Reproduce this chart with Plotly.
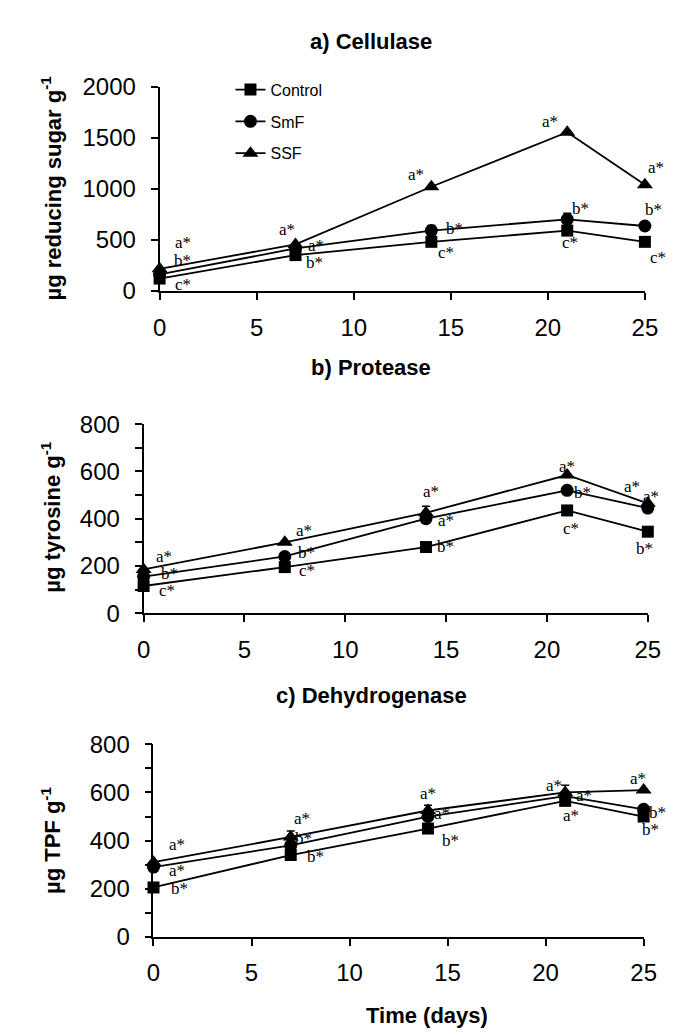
import plotly.graph_objects as go

# ---------------- data ----------------
days = [0, 7, 14, 21, 25]
series_names = ["Control", "SmF", "SSF"]

# a) Cellulase (µg reducing sugar g-1)
cell_control = [120, 350, 480, 590, 480]
cell_smf = [160, 415, 590, 700, 635]
cell_ssf = [215, 455, 1020, 1555, 1040]
cell_control_err = [0, 0, 0, 0, 0]
cell_smf_err = [0, 0, 50, 60, 0]
cell_ssf_err = [0, 0, 0, 0, 0]
cell_control_lbl = ["c*", "b*", "c*", "c*", "c*"]
cell_smf_lbl = ["b*", "a*", "b*", "b*", "b*"]
cell_ssf_lbl = ["a*", "a*", "a*", "a*", "a*"]

# b) Protease (µg tyrosine g-1)
prot_control = [115, 195, 280, 435, 345]
prot_smf = [155, 240, 400, 520, 445]
prot_ssf = [185, 300, 425, 585, 465]
prot_control_err = [0, 0, 0, 0, 0]
prot_smf_err = [0, 0, 0, 0, 0]
prot_ssf_err = [0, 0, 28, 0, 0]
prot_control_lbl = ["c*", "c*", "b*", "c*", "b*"]
prot_smf_lbl = ["b*", "b*", "a*", "b*", "a*"]
prot_ssf_lbl = ["a*", "a*", "a*", "a*", "a*"]

# c) Dehydrogenase (µg TPF g-1)
dh_control = [205, 340, 450, 565, 500]
dh_smf = [290, 380, 500, 585, 530]
dh_ssf = [310, 415, 525, 600, 610]
dh_control_err = [0, 0, 0, 0, 0]
dh_smf_err = [0, 0, 0, 0, 0]
dh_ssf_err = [0, 25, 22, 30, 0]
dh_control_lbl = ["b*", "b*", "b*", "a*", "b*"]
dh_smf_lbl = ["a*", "b*", "a*", "a*", "b*"]
dh_ssf_lbl = ["a*", "a*", "a*", "a*", "a*"]

# ---------------- styles ----------------
W, H = 679, 1035
symbols = {"Control": "square", "SmF": "circle", "SSF": "triangle-up"}
msizes = {"Control": 12, "SmF": 13, "SSF": 14}

# label offsets in pixels (dx, dy) per panel/series
shifts = {
    "a": {
        "Control": [(23, -6), (19, -7), (15, -11), (3, -12), (13, -16)],
        "SmF": [(23, 14), (21, 3), (23, 2), (13, 11), (9, 17)],
        "SSF": [(23, 26), (-8, 15), (-15, 12), (-17, 11), (11, 17)],
    },
    "b": {
        "Control": [(23, -4), (22, -3), (20, 1), (4, -18), (-3, -17)],
        "SmF": [(26, 3), (22, 4), (20, -2), (15, -2), (3, 12)],
        "SSF": [(20, 13), (19, 12), (5, 21), (0, 9), (-16, 17)],
    },
    "c": {
        "Control": [(26, -1), (25, -1), (23, -12), (6, -15), (7, -13)],
        "SmF": [(24, -3), (13, 7), (14, 3), (19, 1), (14, -3)],
        "SSF": [(24, 18), (11, 18), (0, 17), (-11, 7), (-6, 12)],
    },
}

panels = [
    dict(key="a", title="a) Cellulase", ytitle="µg reducing sugar g<sup>-1</sup>",
         vals={"Control": cell_control, "SmF": cell_smf, "SSF": cell_ssf},
         errs={"Control": cell_control_err, "SmF": cell_smf_err, "SSF": cell_ssf_err},
         lbls={"Control": cell_control_lbl, "SmF": cell_smf_lbl, "SSF": cell_ssf_lbl},
         yrange=[0, 2000], dtick=500, minor=None,
         px_x=(149, 649), px_y=(66.5, 276), title_y=20, ytitle_y=170),
    dict(key="b", title="b) Protease", ytitle="µg tyrosine g<sup>-1</sup>",
         vals={"Control": prot_control, "SmF": prot_smf, "SSF": prot_ssf},
         errs={"Control": prot_control_err, "SmF": prot_smf_err, "SSF": prot_ssf_err},
         lbls={"Control": prot_control_lbl, "SmF": prot_smf_lbl, "SSF": prot_ssf_lbl},
         yrange=[0, 800], dtick=200, minor=100,
         px_x=(132.5, 652), px_y=(413, 607), title_y=355, ytitle_y=508),
    dict(key="c", title="c) Dehydrogenase", ytitle="µg TPF g<sup>-1</sup>",
         vals={"Control": dh_control, "SmF": dh_smf, "SSF": dh_ssf},
         errs={"Control": dh_control_err, "SmF": dh_smf_err, "SSF": dh_ssf_err},
         lbls={"Control": dh_control_lbl, "SmF": dh_smf_lbl, "SSF": dh_ssf_lbl},
         yrange=[0, 800], dtick=200, minor=100,
         px_x=(142.7, 647.7), px_y=(741.7, 939.3), title_y=692, ytitle_y=840),
]

fig = go.Figure()
annotations = []
tick_font = dict(family="Liberation Sans, Arial, sans-serif", size=24, color="black")
bold_font = dict(family="Liberation Sans, Arial, sans-serif", size=22, color="black")
lbl_font = dict(family="Liberation Serif, Times New Roman, serif", size=17, color="black")

for i, p in enumerate(panels):
    n = "" if i == 0 else str(i + 1)
    xa, ya = "x" + n, "y" + n
    for s in series_names:
        fig.add_trace(go.Scatter(
            x=days, y=p["vals"][s], name=s, mode="lines+markers",
            xaxis=xa, yaxis=ya, legendgroup=s, showlegend=(i == 0),
            line=dict(color="black", width=1.8),
            marker=dict(symbol=symbols[s], size=msizes[s], color="black"),
            error_y=dict(type="data", array=p["errs"][s], color="black",
                         thickness=1.5, width=4),
            cliponaxis=False,
        ))
        for d, v, t, (dx, dy) in zip(days, p["vals"][s], p["lbls"][s], shifts[p["key"]][s]):
            annotations.append(dict(x=d, y=v, xref=xa, yref=ya, text=t, showarrow=False,
                                    xshift=dx, yshift=dy, font=lbl_font,
                                    xanchor="center", yanchor="middle"))
    x0, x1 = p["px_x"]
    yt, yb = p["px_y"]
    xaxis = dict(domain=[x0 / W, x1 / W], range=[0, 25], dtick=5, tick0=0,
                 showline=True, linecolor="black", linewidth=1.8,
                 ticks="outside", ticklen=7, tickwidth=1.5, tickcolor="black",
                 showgrid=False, zeroline=False, tickfont=tick_font,
                 ticklabelstandoff=7, anchor=ya)
    yaxis = dict(domain=[1 - yb / H, 1 - yt / H], range=p["yrange"], dtick=p["dtick"], tick0=0,
                 showline=True, linecolor="black", linewidth=1.8,
                 ticks="outside", ticklen=7, tickwidth=1.5, tickcolor="black",
                 showgrid=False, zeroline=False, tickfont=tick_font,
                 ticklabelstandoff=10, anchor=xa)
    if p["minor"]:
        yaxis["minor"] = dict(dtick=p["minor"], ticks="outside", ticklen=7,
                              tickwidth=1.5, tickcolor="black", showgrid=False)
    fig.update_layout(**{"xaxis" + n: xaxis, "yaxis" + n: yaxis})
    annotations.append(dict(x=367 / W, y=1 - p["title_y"] / H, xref="paper", yref="paper",
                            text="<b>" + p["title"] + "</b>", showarrow=False,
                            font=bold_font, xanchor="center", yanchor="middle"))
    annotations.append(dict(x=37 / W, y=1 - p["ytitle_y"] / H, xref="paper", yref="paper",
                            text="<b>" + p["ytitle"] + "</b>", showarrow=False, textangle=-90,
                            font=bold_font, xanchor="center", yanchor="middle"))

annotations.append(dict(x=425 / W, y=1 - 1020 / H, xref="paper", yref="paper",
                        text="<b>Time (days)</b>", showarrow=False, font=bold_font,
                        xanchor="center", yanchor="middle"))

fig.update_layout(
    width=W, height=H, margin=dict(l=0, r=0, t=0, b=0),
    paper_bgcolor="white", plot_bgcolor="white",
    annotations=annotations,
    legend=dict(x=222 / W, y=1 - 52 / H, xanchor="left", yanchor="top",
                bgcolor="rgba(0,0,0,0)", tracegroupgap=8,
                font=dict(family="Liberation Sans, Arial, sans-serif", size=16, color="black")),
)

fig.write_html("out.html")
